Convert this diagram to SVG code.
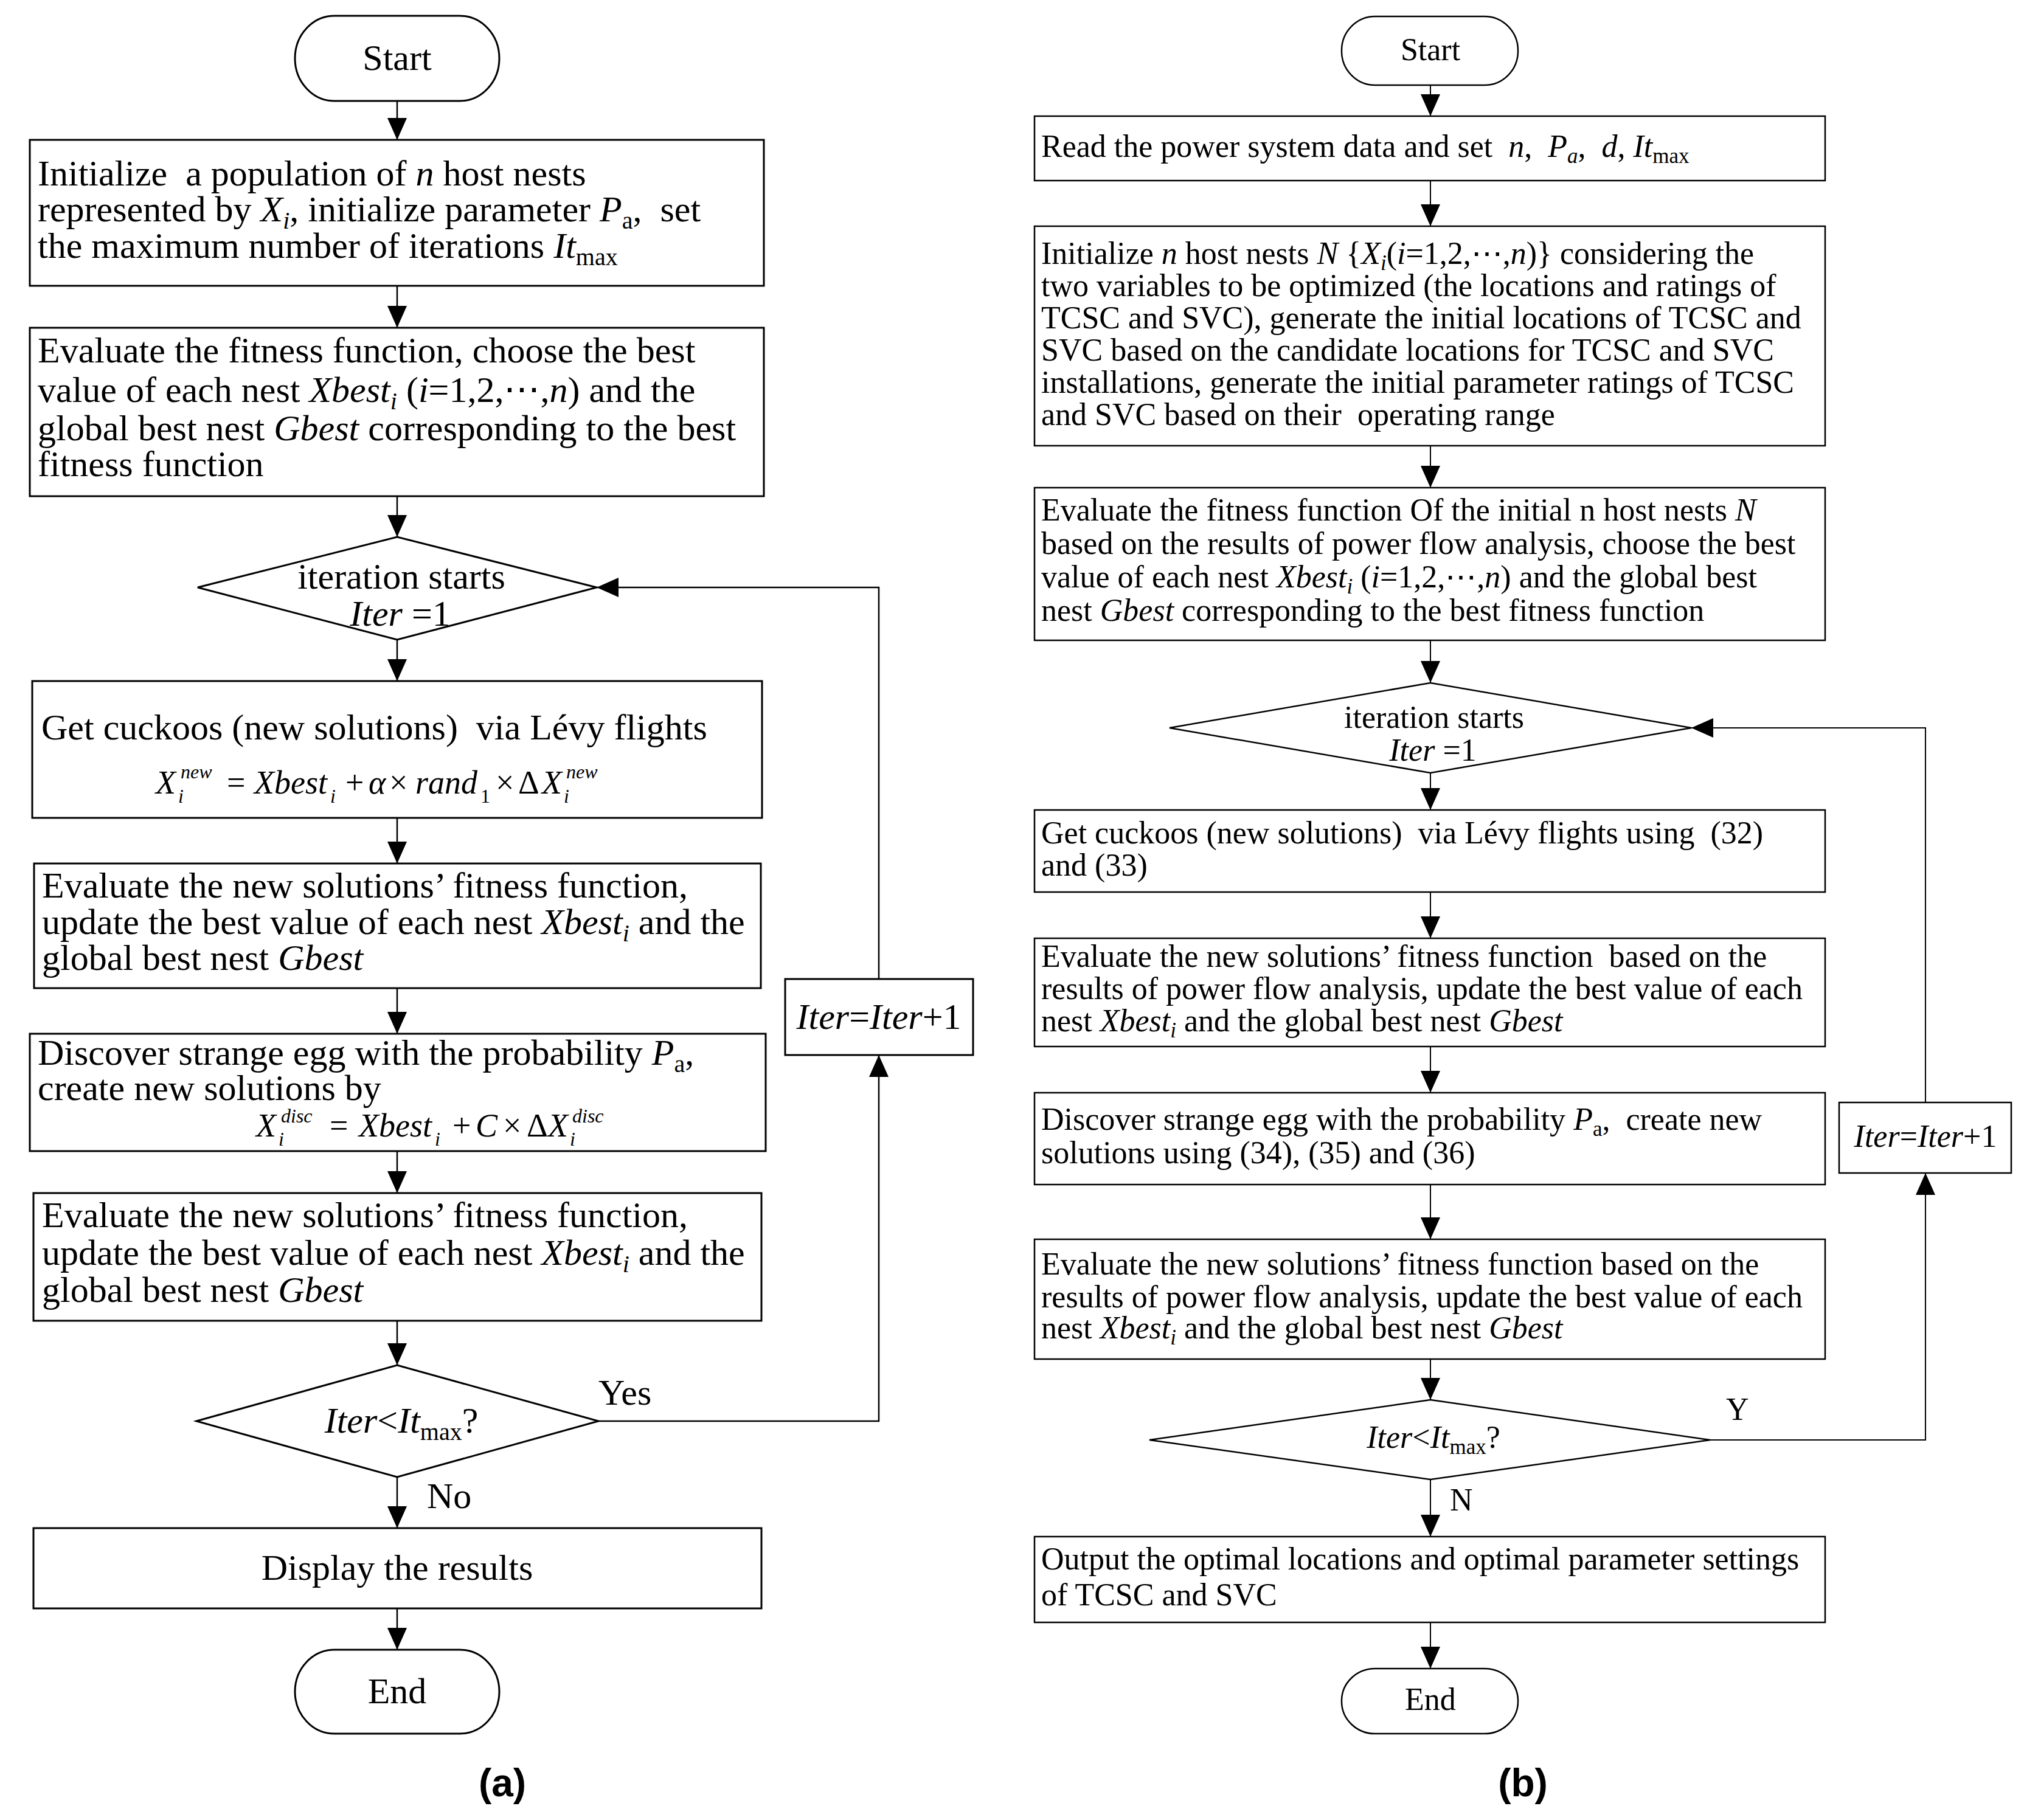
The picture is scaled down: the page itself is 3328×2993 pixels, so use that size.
<svg xmlns="http://www.w3.org/2000/svg" width="3328" height="2993" viewBox="0 0 3328 2993" xml:space="preserve">
<style>
.t{font-family:"Liberation Serif","Times New Roman",serif;fill:#000;white-space:pre}
.L{font-size:60px}
.R{font-size:52px}
.F{font-size:54px}
.i{font-style:italic}
.sL{font-size:40px}
.sR{font-size:35px}
.sF{font-size:32px;font-style:italic}
.c{text-anchor:middle}
.cap{font-family:"Liberation Sans",Arial,sans-serif;font-weight:bold;font-size:64px;text-anchor:middle}
.bx{fill:#fff;stroke:#000;stroke-width:3}
.bxR{fill:#fff;stroke:#000;stroke-width:2.5}
.cn{fill:none;stroke:#000;stroke-width:2.5}
.cnR{fill:none;stroke:#000;stroke-width:2}
</style>
<defs>
<marker id="ah" markerUnits="userSpaceOnUse" markerWidth="36" markerHeight="32" refX="36" refY="16" orient="auto" viewBox="0 0 36 32"><path d="M0,0 L36,16 L0,32 Z" fill="#000"/></marker>
</defs>
<rect width="3328" height="2993" fill="#fff"/>
<g id="connectors">
<line class="cn" x1="653" y1="166" x2="653" y2="230" marker-end="url(#ah)"/>
<line class="cn" x1="653" y1="470" x2="653" y2="539" marker-end="url(#ah)"/>
<line class="cn" x1="653" y1="816" x2="653" y2="883" marker-end="url(#ah)"/>
<line class="cn" x1="653" y1="1052" x2="653" y2="1120" marker-end="url(#ah)"/>
<line class="cn" x1="653" y1="1345" x2="653" y2="1420" marker-end="url(#ah)"/>
<line class="cn" x1="653" y1="1625" x2="653" y2="1700" marker-end="url(#ah)"/>
<line class="cn" x1="653" y1="1893" x2="653" y2="1962" marker-end="url(#ah)"/>
<line class="cn" x1="653" y1="2172" x2="653" y2="2245" marker-end="url(#ah)"/>
<line class="cn" x1="653" y1="2429" x2="653" y2="2513" marker-end="url(#ah)"/>
<line class="cn" x1="653" y1="2645" x2="653" y2="2713" marker-end="url(#ah)"/>
<polyline class="cn" points="984,2337 1445,2337 1445,1735" marker-end="url(#ah)"/>
<polyline class="cn" points="1445,1610 1445,966 981,966" marker-end="url(#ah)"/>
<line class="cnR" x1="2352" y1="140" x2="2352" y2="191" marker-end="url(#ah)"/>
<line class="cnR" x1="2352" y1="297" x2="2352" y2="372" marker-end="url(#ah)"/>
<line class="cnR" x1="2352" y1="733" x2="2352" y2="802" marker-end="url(#ah)"/>
<line class="cnR" x1="2352" y1="1053" x2="2352" y2="1123" marker-end="url(#ah)"/>
<line class="cnR" x1="2352" y1="1271" x2="2352" y2="1332" marker-end="url(#ah)"/>
<line class="cnR" x1="2352" y1="1467" x2="2352" y2="1543" marker-end="url(#ah)"/>
<line class="cnR" x1="2352" y1="1721" x2="2352" y2="1797" marker-end="url(#ah)"/>
<line class="cnR" x1="2352" y1="1948" x2="2352" y2="2038" marker-end="url(#ah)"/>
<line class="cnR" x1="2352" y1="2235" x2="2352" y2="2302" marker-end="url(#ah)"/>
<line class="cnR" x1="2352" y1="2433" x2="2352" y2="2527" marker-end="url(#ah)"/>
<line class="cnR" x1="2352" y1="2668" x2="2352" y2="2744" marker-end="url(#ah)"/>
<polyline class="cnR" points="2812,2368 3166,2368 3166,1929" marker-end="url(#ah)"/>
<polyline class="cnR" points="3166,1813 3166,1197 2781,1197" marker-end="url(#ah)"/>
<text class="t L" x="984" y="2310">Yes</text>
<text class="t L" x="702" y="2480">No</text>
<text class="t R" x="2838" y="2335">Y</text>
<text class="t R" x="2384" y="2484">N</text>
</g>
<g id="a-start">
<rect class="bx" x="485" y="26" width="336" height="140" rx="65" ry="70"/>
<text class="t L c" x="653" y="115">Start</text>
</g>
<g id="a-init">
<rect class="bx" x="49" y="230" width="1207" height="240"/>
<text class="t L" x="62" y="305">Initialize  a population of <tspan class="i">n</tspan> host nests</text>
<text class="t L" x="62" y="364">represented by <tspan class="i">X</tspan><tspan class="i sL" dy="12">i</tspan><tspan dy="-12">, initialize parameter </tspan><tspan class="i">P</tspan><tspan class="sL" dy="12">a</tspan><tspan dy="-12">,  set</tspan></text>
<text class="t L" x="62" y="424">the maximum number of iterations <tspan class="i">It</tspan><tspan class="sL" dy="12">max</tspan></text>
</g>
<g id="a-eval">
<rect class="bx" x="49" y="539" width="1207" height="277"/>
<text class="t L" x="62" y="596">Evaluate the fitness function, choose the best</text>
<text class="t L" x="62" y="661">value of each nest <tspan class="i">Xbest</tspan><tspan class="i sL" dy="12">i</tspan><tspan dy="-12"> (</tspan><tspan class="i">i</tspan>=1,2,⋯,<tspan class="i">n</tspan>) and the</text>
<text class="t L" x="62" y="724">global best nest <tspan class="i">Gbest</tspan> corresponding to the best</text>
<text class="t L" x="62" y="783">fitness function</text>
</g>
<g id="a-iterstart">
<polygon class="bx" points="325,966 653,883 981,966 653,1052"/>
<text class="t L c" x="660" y="968">iteration starts</text>
<text class="t L c" x="658" y="1029"><tspan class="i">Iter</tspan> =1</text>
</g>
<g id="a-levy">
<rect class="bx" x="53" y="1120" width="1200" height="225"/>
<text class="t L" x="68" y="1216">Get cuckoos (new solutions)  via Lévy flights</text>
<text class="t F i" x="256" y="1305">X</text>
<text class="t sF" x="297" y="1280">new</text>
<text class="t sF" x="293" y="1320">i</text>
<text class="t F" x="373" y="1305">=</text>
<text class="t F i" x="418" y="1305">Xbest</text>
<text class="t sF" x="543" y="1320">i</text>
<text class="t F" x="568" y="1305">+</text>
<text class="t F i" x="606" y="1305">α</text>
<text class="t F" x="640" y="1305">×</text>
<text class="t F i" x="683" y="1305">rand</text>
<text class="t" font-size="32" x="790" y="1320">1</text>
<text class="t F" x="815" y="1305">×</text>
<text class="t F" x="852" y="1305">Δ</text>
<text class="t F i" x="891" y="1305">X</text>
<text class="t sF" x="931" y="1280">new</text>
<text class="t sF" x="927" y="1320">i</text>
</g>
<g id="a-update1">
<rect class="bx" x="56" y="1420" width="1195" height="205"/>
<text class="t L" x="69" y="1476">Evaluate the new solutions’ fitness function,</text>
<text class="t L" x="69" y="1536">update the best value of each nest <tspan class="i">Xbest</tspan><tspan class="i sL" dy="12">i</tspan><tspan dy="-12"> and the</tspan></text>
<text class="t L" x="69" y="1595">global best nest <tspan class="i">Gbest</tspan></text>
</g>
<g id="a-discover">
<rect class="bx" x="49" y="1700" width="1210" height="193"/>
<text class="t L" x="62" y="1751">Discover strange egg with the probability <tspan class="i">P</tspan><tspan class="sL" dy="12">a</tspan><tspan dy="-12">,</tspan></text>
<text class="t L" x="62" y="1809">create new solutions by</text>
<text class="t F i" x="421" y="1869">X</text>
<text class="t sF" x="462" y="1846">disc</text>
<text class="t sF" x="458" y="1884">i</text>
<text class="t F" x="542" y="1869">=</text>
<text class="t F i" x="590" y="1869">Xbest</text>
<text class="t sF" x="715" y="1884">i</text>
<text class="t F" x="744" y="1869">+</text>
<text class="t F i" x="782" y="1869">C</text>
<text class="t F" x="827" y="1869">×</text>
<text class="t F" x="866" y="1869">Δ</text>
<text class="t F i" x="901" y="1869">X</text>
<text class="t sF" x="941" y="1846">disc</text>
<text class="t sF" x="937" y="1884">i</text>
</g>
<g id="a-update2">
<rect class="bx" x="55" y="1962" width="1197" height="210"/>
<text class="t L" x="69" y="2018">Evaluate the new solutions’ fitness function,</text>
<text class="t L" x="69" y="2080">update the best value of each nest <tspan class="i">Xbest</tspan><tspan class="i sL" dy="12">i</tspan><tspan dy="-12"> and the</tspan></text>
<text class="t L" x="69" y="2141">global best nest <tspan class="i">Gbest</tspan></text>
</g>
<g id="a-check">
<polygon class="bx" points="323,2337 653,2245 984,2337 653,2429"/>
<text class="t L c" x="660" y="2356"><tspan class="i">Iter</tspan>&lt;<tspan class="i">It</tspan><tspan class="sL" dy="12">max</tspan><tspan dy="-12">?</tspan></text>
</g>
<g id="a-display">
<rect class="bx" x="55" y="2513" width="1197" height="132"/>
<text class="t L c" x="653" y="2598">Display the results</text>
</g>
<g id="a-end">
<rect class="bx" x="485" y="2713" width="336" height="138" rx="65" ry="69"/>
<text class="t L c" x="653" y="2801">End</text>
</g>
<g id="a-iterinc">
<rect class="bx" x="1291" y="1610" width="309" height="125"/>
<text class="t L c" x="1445" y="1692"><tspan class="i">Iter</tspan>=<tspan class="i">Iter</tspan>+1</text>
</g>
<text class="cap" x="826" y="2954">(a)</text>
<g id="b-start">
<rect class="bxR" x="2206" y="27" width="290" height="113" rx="55" ry="56"/>
<text class="t R c" x="2352" y="99">Start</text>
</g>
<g id="b-read">
<rect class="bxR" x="1701" y="191" width="1300" height="106"/>
<text class="t R" x="1712" y="258">Read the power system data and set  <tspan class="i">n</tspan>,  <tspan class="i">P</tspan><tspan class="i sR" dy="10">a</tspan><tspan dy="-10">,  </tspan><tspan class="i">d</tspan>, <tspan class="i">It</tspan><tspan class="sR" dy="10">max</tspan></text>
</g>
<g id="b-init">
<rect class="bxR" x="1701" y="372" width="1300" height="361"/>
<text class="t R" x="1712" y="434">Initialize <tspan class="i">n</tspan> host nests <tspan class="i">N</tspan> {<tspan class="i">X</tspan><tspan class="i sR" dy="10">i</tspan><tspan dy="-10">(</tspan><tspan class="i">i</tspan>=1,2,⋯,<tspan class="i">n</tspan>)} considering the</text>
<text class="t R" x="1712" y="487">two variables to be optimized (the locations and ratings of</text>
<text class="t R" x="1712" y="540">TCSC and SVC), generate the initial locations of TCSC and</text>
<text class="t R" x="1712" y="593">SVC based on the candidate locations for TCSC and SVC</text>
<text class="t R" x="1712" y="646">installations, generate the initial parameter ratings of TCSC</text>
<text class="t R" x="1712" y="699">and SVC based on their  operating range</text>
</g>
<g id="b-eval">
<rect class="bxR" x="1701" y="802" width="1300" height="251"/>
<text class="t R" x="1712" y="856">Evaluate the fitness function Of the initial n host nests <tspan class="i">N</tspan></text>
<text class="t R" x="1712" y="911">based on the results of power flow analysis, choose the best</text>
<text class="t R" x="1712" y="966">value of each nest <tspan class="i">Xbest</tspan><tspan class="i sR" dy="10">i</tspan><tspan dy="-10"> (</tspan><tspan class="i">i</tspan>=1,2,⋯,<tspan class="i">n</tspan>) and the global best</text>
<text class="t R" x="1712" y="1021">nest <tspan class="i">Gbest</tspan> corresponding to the best fitness function</text>
</g>
<g id="b-iterstart">
<polygon class="bxR" points="1923,1197 2352,1123 2781,1197 2352,1271"/>
<text class="t R c" x="2358" y="1197">iteration starts</text>
<text class="t R c" x="2356" y="1251"><tspan class="i">Iter</tspan> =1</text>
</g>
<g id="b-levy">
<rect class="bxR" x="1701" y="1332" width="1300" height="135"/>
<text class="t R" x="1712" y="1387">Get cuckoos (new solutions)  via Lévy flights using  (32)</text>
<text class="t R" x="1712" y="1440">and (33)</text>
</g>
<g id="b-update1">
<rect class="bxR" x="1701" y="1543" width="1300" height="178"/>
<text class="t R" x="1712" y="1590">Evaluate the new solutions’ fitness function  based on the</text>
<text class="t R" x="1712" y="1643">results of power flow analysis, update the best value of each</text>
<text class="t R" x="1712" y="1696">nest <tspan class="i">Xbest</tspan><tspan class="i sR" dy="10">i</tspan><tspan dy="-10"> and the global best nest </tspan><tspan class="i">Gbest</tspan></text>
</g>
<g id="b-discover">
<rect class="bxR" x="1701" y="1797" width="1300" height="151"/>
<text class="t R" x="1712" y="1858">Discover strange egg with the probability <tspan class="i">P</tspan><tspan class="sR" dy="10">a</tspan><tspan dy="-10">,  create new</tspan></text>
<text class="t R" x="1712" y="1913">solutions using (34), (35) and (36)</text>
</g>
<g id="b-update2">
<rect class="bxR" x="1701" y="2038" width="1300" height="197"/>
<text class="t R" x="1712" y="2096">Evaluate the new solutions’ fitness function based on the</text>
<text class="t R" x="1712" y="2150">results of power flow analysis, update the best value of each</text>
<text class="t R" x="1712" y="2201">nest <tspan class="i">Xbest</tspan><tspan class="i sR" dy="10">i</tspan><tspan dy="-10"> and the global best nest </tspan><tspan class="i">Gbest</tspan></text>
</g>
<g id="b-check">
<polygon class="bxR" points="1890,2368 2352,2302 2812,2368 2352,2433"/>
<text class="t R c" x="2357" y="2381"><tspan class="i">Iter</tspan>&lt;<tspan class="i">It</tspan><tspan class="sR" dy="10">max</tspan><tspan dy="-10">?</tspan></text>
</g>
<g id="b-output">
<rect class="bxR" x="1701" y="2527" width="1300" height="141"/>
<text class="t R" x="1712" y="2581">Output the optimal locations and optimal parameter settings</text>
<text class="t R" x="1712" y="2640">of TCSC and SVC</text>
</g>
<g id="b-end">
<rect class="bxR" x="2206" y="2744" width="290" height="107" rx="55" ry="53"/>
<text class="t R c" x="2352" y="2812">End</text>
</g>
<g id="b-iterinc">
<rect class="bxR" x="3024" y="1813" width="283" height="116"/>
<text class="t R c" x="3166" y="1886"><tspan class="i">Iter</tspan>=<tspan class="i">Iter</tspan>+1</text>
</g>
<text class="cap" x="2504" y="2954">(b)</text>
</svg>
